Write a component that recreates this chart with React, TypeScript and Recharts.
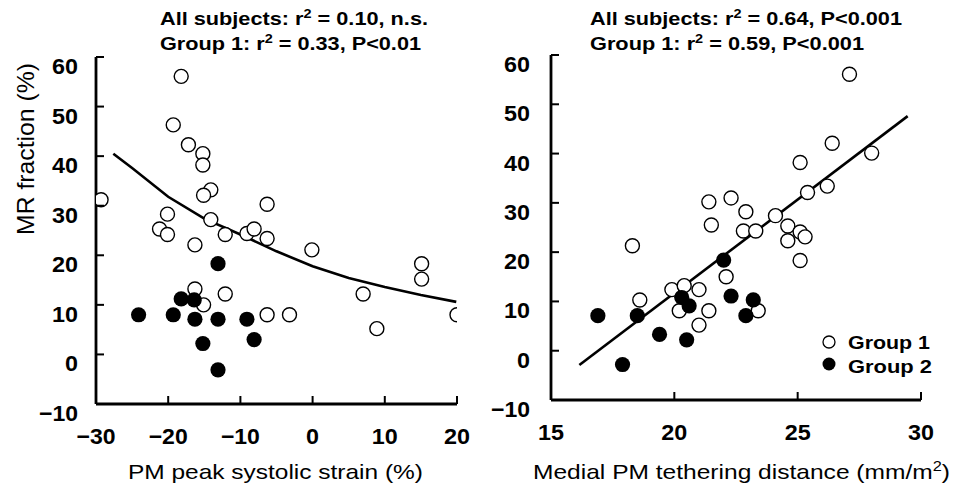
import { Scatter, ScatterChart, XAxis, YAxis } from "recharts";

// left panel: PM peak systolic strain vs MR fraction
const leftG1X = [-29.3, -18.2, -19.3, -17.2, -15.2, -15.2, -14.1, -15.1, -20.1, -21.2, -20.1, -14.1, -12.1, -16.3, -9.1, -8.1, -6.3, -6.3, -0.1, -16.3, -12.1, -15.1, -6.3, -3.2, 7.0, 8.9, 15.1, 15.1, 20.0];
const leftG1Y = [31.2, 56.1, 46.3, 42.3, 40.5, 38.2, 33.2, 32.1, 28.3, 25.3, 24.2, 27.2, 24.2, 22.1, 24.4, 25.3, 30.3, 23.4, 21.1, 13.2, 12.2, 10.0, 8.0, 8.0, 12.2, 5.2, 18.3, 15.2, 8.0];
const leftG2X = [-24.1, -19.3, -18.2, -16.4, -16.3, -13.1, -13.1, -15.2, -13.1, -9.1, -8.1];
const leftG2Y = [8.0, 8.0, 11.2, 11.0, 7.1, 18.3, 7.1, 2.2, -3.1, 7.1, 3.0];
const leftFitX = [-27.6, -25, -20, -15, -10, -5, 0, 5, 10, 15, 19.9];
const leftFitY = [40.5, 37.6, 31.8, 27.4, 24.2, 20.8, 17.8, 15.4, 13.6, 12.0, 10.6];

// right panel: medial PM tethering distance vs MR fraction
const rightG1X = [27.1, 26.4, 28.0, 25.1, 26.2, 25.4, 21.4, 22.3, 22.9, 24.1, 21.5, 22.8, 23.3, 24.6, 24.6, 25.1, 25.3, 25.1, 18.3, 18.6, 19.9, 20.4, 21.0, 22.1, 20.2, 21.4, 21.0, 23.4];
const rightG1Y = [56.1, 42.1, 40.1, 38.2, 33.4, 32.1, 30.2, 31.0, 28.2, 27.4, 25.5, 24.3, 24.3, 25.3, 22.3, 24.1, 23.1, 18.3, 21.3, 10.3, 12.4, 13.2, 12.4, 15.0, 8.1, 8.1, 5.2, 8.1];
const rightG2X = [16.9, 17.9, 18.5, 19.4, 20.3, 20.6, 20.5, 22.0, 22.3, 22.9, 23.2];
const rightG2Y = [7.1, -2.8, 7.1, 3.3, 10.8, 9.1, 2.2, 18.4, 11.1, 7.1, 10.3];
const rightFitX = [16.15, 29.46];
const rightFitY = [-2.9, 47.6];

const yTicks = [-10, 0, 10, 20, 30, 40, 50, 60];
const leftXTicks = [-30, -20, -10, 0, 10, 20];
const rightXTicks = [15, 20, 25, 30];

const FONT = '"Liberation Sans", Arial, sans-serif';

const zip = (xs: number[], ys: number[]) => xs.map((x, i) => ({ x, y: ys[i] }));

const fmt = (v: number) => (v < 0 ? `\u2212${Math.abs(v)}` : `${v}`);
const labelLen = (s: string) => s.length * 13;

const OpenDot = (p: any) => (
  <circle cx={p.cx} cy={p.cy} r={7} fill="#fff" stroke="#000" strokeWidth={1.4} />
);
const FilledDot = (p: any) => <circle cx={p.cx} cy={p.cy} r={7.6} fill="#000" />;
const NoDot = () => <g />;

function makeYTick(axisX: number, gap: number) {
  return (p: any) => {
    const v = p.payload.value;
    const s = fmt(v);
    return (
      <g>
        {v !== -10 && <line x1={axisX} y1={p.y} x2={axisX + 8} y2={p.y} stroke="#000" strokeWidth={2} />}
        <text
          x={axisX - gap}
          y={p.y + 17}
          textAnchor="end"
          fontFamily={FONT}
          fontWeight="bold"
          fontSize={22}
          textLength={labelLen(s)}
          lengthAdjust="spacingAndGlyphs"
          fill="#000"
        >
          {s}
        </text>
      </g>
    );
  };
}

function makeXTick(axisY: number, first: number) {
  return (p: any) => {
    const v = p.payload.value;
    const s = fmt(v);
    const w = labelLen(s);
    return (
      <g>
        {v !== first && <line x1={p.x} y1={axisY} x2={p.x} y2={axisY - 8} stroke="#000" strokeWidth={2} />}
        <text
          x={p.x - w / 2}
          y={axisY + 40}
          fontFamily={FONT}
          fontWeight="bold"
          fontSize={22}
          textLength={w}
          lengthAdjust="spacingAndGlyphs"
          fill="#000"
        >
          {s}
        </text>
      </g>
    );
  };
}

const axisLine = { stroke: "#000", strokeWidth: 2.8 };

function Title({ x, y1, y2, a, b, w1, w2 }: any) {
  return (
    <g fontFamily={FONT} fontWeight="bold" fontSize={18} fill="#000">
      <text x={x} y={y1} textLength={w1} lengthAdjust="spacingAndGlyphs">
        All subjects: r<tspan dy={-7} fontSize={12}>2</tspan>
        <tspan dy={7}>{` = ${a}`}</tspan>
      </text>
      <text x={x} y={y2} textLength={w2} lengthAdjust="spacingAndGlyphs">
        Group 1: r<tspan dy={-7} fontSize={12}>2</tspan>
        <tspan dy={7}>{` = ${b}`}</tspan>
      </text>
    </g>
  );
}

export default function App() {
  return (
    <div style={{ position: "absolute", left: 0, top: 0, width: 954, height: 490, background: "#fff" }}>
      <div style={{ position: "absolute", left: 0, top: 0 }}>
        <ScatterChart width={480} height={490} margin={{ top: 57, right: 23, left: 0, bottom: 0 }}>
          <XAxis
            type="number"
            dataKey="x"
            domain={[-30, 20]}
            ticks={leftXTicks}
            height={86}
            axisLine={axisLine}
            tickLine={false}
            tick={makeXTick(404, -30)}
            allowDataOverflow
          />
          <YAxis
            type="number"
            dataKey="y"
            domain={[-10, 60]}
            ticks={yTicks}
            width={96}
            axisLine={axisLine}
            tickLine={false}
            tick={makeYTick(96, 18)}
            allowDataOverflow
          />
          <Scatter data={zip(leftFitX, leftFitY)} line={{ stroke: "#000", strokeWidth: 2.6 }} lineType="joint" shape={NoDot} isAnimationActive={false} />
          <Scatter data={zip(leftG1X, leftG1Y)} shape={OpenDot} isAnimationActive={false} />
          <Scatter data={zip(leftG2X, leftG2Y)} shape={FilledDot} isAnimationActive={false} />
        </ScatterChart>
      </div>
      <div style={{ position: "absolute", left: 480, top: 0 }}>
        <ScatterChart width={474} height={490} margin={{ top: 55, right: 33, left: 0, bottom: 0 }}>
          <XAxis
            type="number"
            dataKey="x"
            domain={[15, 30]}
            ticks={rightXTicks}
            height={90}
            axisLine={axisLine}
            tickLine={false}
            tick={makeXTick(400, 15)}
            allowDataOverflow
          />
          <YAxis
            type="number"
            dataKey="y"
            domain={[-10, 60]}
            ticks={yTicks}
            width={71}
            axisLine={axisLine}
            tickLine={false}
            tick={makeYTick(71, 21)}
            allowDataOverflow
          />
          <Scatter data={zip(rightFitX, rightFitY)} line={{ stroke: "#000", strokeWidth: 2.6 }} lineType="joint" shape={NoDot} isAnimationActive={false} />
          <Scatter data={zip(rightG1X, rightG1Y)} shape={OpenDot} isAnimationActive={false} />
          <Scatter data={zip(rightG2X, rightG2Y)} shape={FilledDot} isAnimationActive={false} />
        </ScatterChart>
      </div>
      <svg width={954} height={490} style={{ position: "absolute", left: 0, top: 0, pointerEvents: "none" }}>
        <Title x={160} y1={25} y2={50} a="0.10, n.s." b="0.33, P<0.01" w1={268} w2={261} />
        <Title x={590} y1={25} y2={50} a="0.64, P<0.001" b="0.59, P<0.001" w1={312} w2={274} />
        <text x={128} y={479} fontFamily={FONT} fontSize={21} textLength={295} lengthAdjust="spacingAndGlyphs">
          PM peak systolic strain (%)
        </text>
        <text x={533} y={479} fontFamily={FONT} fontSize={21} textLength={417} lengthAdjust="spacingAndGlyphs">
          Medial PM tethering distance (mm/m<tspan dy={-8} fontSize={14}>2</tspan>
          <tspan dy={8}>)</tspan>
        </text>
        <text
          transform="translate(34,149) rotate(-90)"
          textAnchor="middle"
          fontFamily={FONT}
          fontSize={24}
          textLength={172}
          lengthAdjust="spacingAndGlyphs"
        >
          MR fraction (%)
        </text>
        <circle cx={829} cy={342} r={6} fill="#fff" stroke="#000" strokeWidth={1.3} />
        <circle cx={829} cy={364} r={6.5} fill="#000" />
        <g fontFamily={FONT} fontWeight="bold" fontSize={19}>
          <text x={848} y={349} textLength={82} lengthAdjust="spacingAndGlyphs">Group 1</text>
          <text x={848} y={373} textLength={84} lengthAdjust="spacingAndGlyphs">Group 2</text>
        </g>
      </svg>
    </div>
  );
}
